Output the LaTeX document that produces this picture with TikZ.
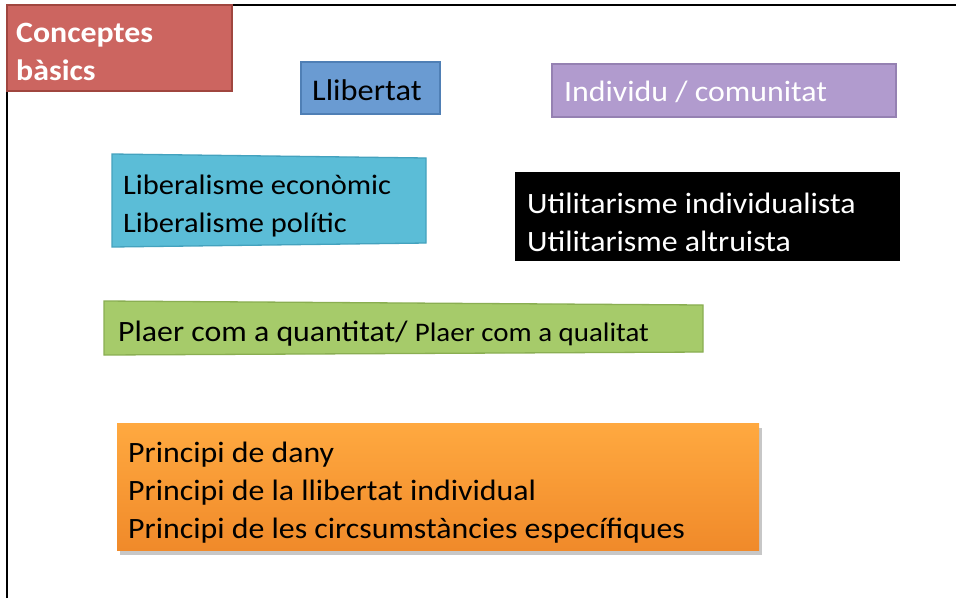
\documentclass[tikz,border=0pt]{standalone}
\usepackage{fontspec}
\setmainfont{Carlito}[FakeStretch=1.08]
\definecolor{redF}{HTML}{CC6560}
\definecolor{redD}{HTML}{A0463F}
\definecolor{blueF}{HTML}{6A9BD2}
\definecolor{blueD}{HTML}{4F7FB5}
\definecolor{purF}{HTML}{B19BCE}
\definecolor{purD}{HTML}{9581B2}
\definecolor{cyanF}{HTML}{5BBDD7}
\definecolor{cyanD}{HTML}{44A2BE}
\definecolor{greenF}{HTML}{A6CB6A}
\definecolor{greenD}{HTML}{8AAE52}
\definecolor{orT}{HTML}{FFA940}
\definecolor{orB}{HTML}{F08A2A}
\begin{document}
\begin{tikzpicture}[x=1pt,y=-1pt,
  txt/.style={anchor=base west, inner sep=0pt, font=\fontsize{29.5}{35}\selectfont},
  boxline/.style={line width=1.3pt}]
\useasboundingbox (0,0) rectangle (956,598);
\fill[white] (0,0) rectangle (956,598);
\draw[line width=2pt] (7,598) -- (7,5) -- (956,5);
% red box
\draw[boxline, fill=redF, draw=redD] (7,5) rectangle (232,91);
\node[txt, text=white, font=\bfseries\fontsize{29.5}{35}\selectfont] (c1) at (16,42) {Conceptes};
\node[txt, text=white, font=\bfseries\fontsize{29.5}{35}\selectfont] (c2) at (16,80) {bàsics};
% blue
\draw[boxline, fill=blueF, draw=blueD] (301,62) rectangle (440,114);
\node[txt, font=\fontsize{30}{35}\selectfont] (llib) at (312,100) {Llibertat};
% purple
\draw[boxline, fill=purF, draw=purD] (552,64) rectangle (896,117);
\node[txt, text=white] (ind) at (564,101) {Individu / comunitat};
% cyan
\draw[boxline, fill=cyanF, draw=cyanD] (112,154) -- (426,158) -- (426,243) -- (112,247) -- cycle;
\node[txt, font=\fontsize{28.2}{33}\selectfont] (lib1) at (123,194) {Liberalisme econòmic};
\node[txt, font=\fontsize{28.2}{33}\selectfont] (lib2) at (123,232) {Liberalisme polític};
% black
\fill[black] (515,172) rectangle (900,261);
\node[txt, text=white] (ut1) at (527,213) {Utilitarisme individualista};
\node[txt, text=white] (ut2) at (527,251) {Utilitarisme altruista};
% green
\draw[boxline, fill=greenF, draw=greenD] (104,301) -- (703,305) -- (703,352) -- (104,355) -- cycle;
\node[txt, font=\fontsize{29.5}{35}\selectfont] (pl) at (118,341) {Plaer com a quantitat/ {\fontsize{26.8}{30}\selectfont Plaer com a qualitat}};
% orange
\fill[black!22] (120,428) rectangle (762,555);
\shade[top color=orT, bottom color=orB] (117,423) rectangle (759,550);
\node[txt] (pr1) at (128,462) {Principi de dany};
\node[txt] (pr2) at (128,500) {Principi de la llibertat individual};
\node[txt] (pr3) at (128,538) {Principi de les circsumstàncies específiques};
\end{tikzpicture}
\end{document}
